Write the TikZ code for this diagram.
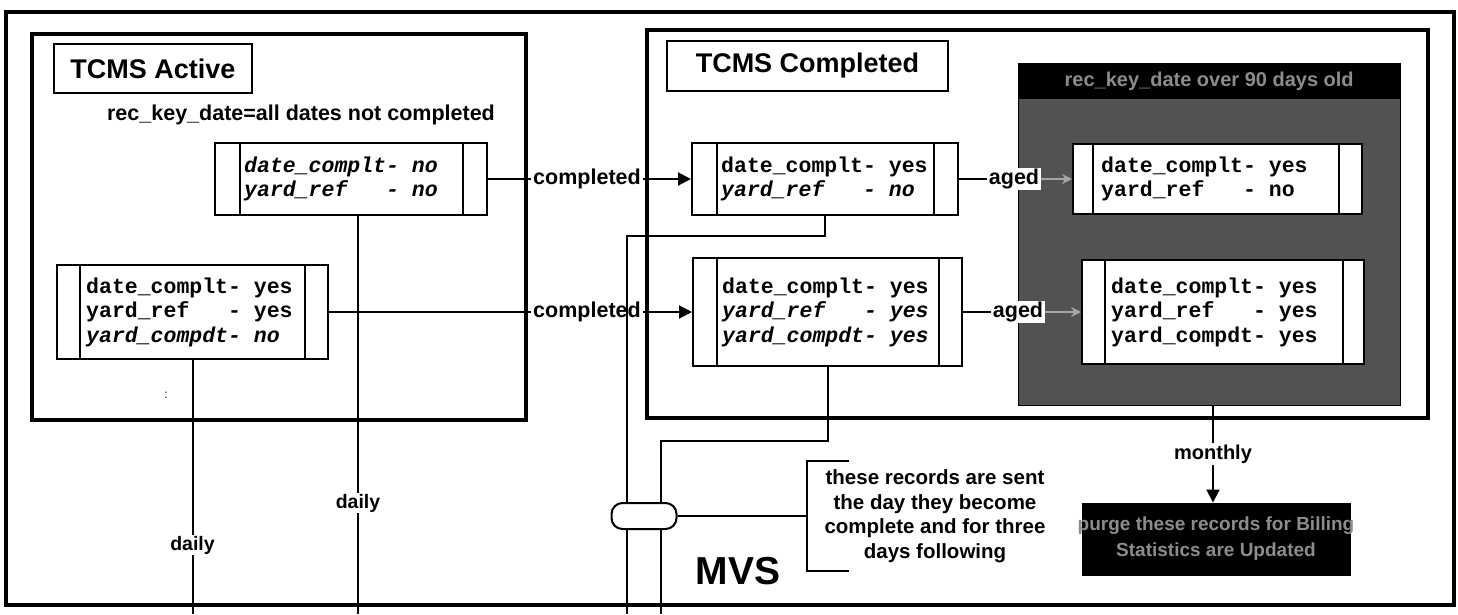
\documentclass[tikz,border=0pt]{standalone}
\usepackage{fontspec}
\setmainfont{Liberation Sans}
\newfontfamily\recfont{Liberation Mono}
\usetikzlibrary{arrows.meta,calc}
\newcommand\dividers[3]{%
  \draw[recline] ([xshift=#2]#1.north west) -- ([xshift=#2]#1.south west);
  \draw[recline] ([xshift=-#3]#1.north east) -- ([xshift=-#3]#1.south east);}
\begin{document}
\begin{tikzpicture}[x=1pt,y=-1pt,
  outerframe/.style={draw, line width=4pt, inner sep=0pt},
  frame/.style={draw, line width=3.5pt, inner sep=0pt},
  titlebox/.style={draw, line width=2pt, inner sep=0pt, font=\bfseries\fontsize{27}{30}\selectfont},
  recbox/.style={draw, line width=2pt, fill=white, inner sep=0pt},
  recline/.style={line width=2pt},
  rectext/.style={inner sep=0pt, align=left, anchor=west, font=\recfont\bfseries\fontsize{21.5}{24.5}\selectfont},
  conn/.style={line width=2pt},
  arr/.style={conn, -{Triangle[length=13pt,width=13pt]}},
  lbl/.style={fill=white, inner xsep=2pt, inner ysep=1pt, font=\bfseries\fontsize{21.5}{24}\selectfont},
  darktext/.style={text=black!45, font=\bfseries\fontsize{20}{25}\selectfont, align=center}
]
\useasboundingbox (0,0) rectangle (1458,614);

% frames
\node[outerframe, minimum width=1448, minimum height=593, anchor=north west] (outer) at (4,10) {};
\node[frame, minimum width=494, minimum height=386, anchor=north west] (active) at (30,32) {};
\node[frame, minimum width=781, minimum height=388, anchor=north west] (compl) at (645,28) {};

% titles
\node[titlebox, minimum width=198, minimum height=49, anchor=north west] (tact) at (53,43) {TCMS Active};
\node[titlebox, minimum width=281, minimum height=50, anchor=north west] (tcom) at (666,40) {TCMS Completed};
\node[font=\bfseries\fontsize{21.5}{24}\selectfont] (rk) at (301,115) {rec\_key\_date=all dates not completed};
\node[font=\fontsize{12}{12}\selectfont] (dot) at (166,395) {:};

% dark aged area
\node[draw, line width=1pt, fill=black!68, minimum width=382, minimum height=342, anchor=north west, inner sep=0pt] (dark) at (1018,63) {};
\node[fill=black, minimum width=382, minimum height=36, anchor=north west, inner sep=0pt] (darkt) at (1018,63) {};
\node[darktext] (darkl) at (darkt.center) {rec\_key\_date over 90 days old};

% record boxes
\node[recbox, minimum width=272, minimum height=72] (A) at (351,179) {};
\dividers{A}{26pt}{25pt}
\node[rectext] (At) at ([xshift=30pt]A.west) {\textit{date\_complt- no}\\\textit{yard\_ref\ \ \ - no}};

\node[recbox, minimum width=271, minimum height=94] (B) at (192.5,312) {};
\dividers{B}{24pt}{24pt}
\node[rectext] (Bt) at ([xshift=30pt]B.west) {date\_complt- yes\\yard\_ref\ \ \ - yes\\\textit{yard\_compdt- no}};

\node[recbox, minimum width=266, minimum height=72] (C) at (825,179) {};
\dividers{C}{26pt}{25pt}
\node[rectext] (Ct) at ([xshift=30pt]C.west) {date\_complt- yes\\\textit{yard\_ref\ \ \ - no}};

\node[recbox, minimum width=269, minimum height=108] (F) at (827.5,312) {};
\dividers{F}{25pt}{24pt}
\node[rectext] (Ft) at ([xshift=30pt]F.west) {date\_complt- yes\\\textit{yard\_ref\ \ \ - yes}\\\textit{yard\_compdt- yes}};

\node[recbox, minimum width=289, minimum height=70] (D) at (1217.5,179) {};
\dividers{D}{21pt}{24pt}
\node[rectext] (Dt) at ([xshift=29pt]D.west) {date\_complt- yes\\yard\_ref\ \ \ - no};

\node[recbox, minimum width=282, minimum height=104] (E) at (1223,312) {};
\dividers{E}{24pt}{22pt}
\node[rectext] (Et) at ([xshift=30pt]E.west) {date\_complt- yes\\yard\_ref\ \ \ - yes\\yard\_compdt- yes};

% purge box
\node[fill=black, draw, line width=1pt, minimum width=268, minimum height=72, inner sep=0pt] (purge) at (1216,539) {};
\node[darktext, font=\bfseries\fontsize{19}{26}\selectfont] (purget) at (purge.center) {purge these records for Billing\\Statistics are Updated};

% completed connectors
\draw[arr] (A.east) -- (C.west);
\draw[arr] (B.east) -- (F.west);
\node[lbl] (c1) at (587,179) {completed};
\node[lbl] (c2) at (587,312) {completed};

% aged connectors
\node[lbl] (a1) at (1014,179) {aged};
\node[lbl] (a2) at (1018,312) {aged};
\draw[conn] (C.east) -- (a1.west);
\draw[conn] (F.east) -- (a2.west);
\draw[line width=1.5pt, black!35, -{Stealth[length=10pt,width=10pt]}] (a1.east) -- (D.west);
\draw[line width=1.5pt, black!35, -{Stealth[length=10pt,width=10pt]}] (a2.east) -- (E.west);

% daily lines
\coordinate (d1b) at (192.5,614);
\coordinate (d2b) at (358,614);
\draw[conn] (B.south) -- (d1b);
\draw[conn] ([xshift=7pt]A.south) -- (d2b);
\node[lbl, font=\bfseries\fontsize{19.5}{22}\selectfont] (daily1) at (192.5,545) {daily};
\node[lbl, font=\bfseries\fontsize{19.5}{22}\selectfont] (daily2) at (358,503) {daily};

% MVS lines
\coordinate (m1b) at (627,614);
\coordinate (m2b) at (661,614);
\draw[conn] (C.south) -- ++(0,20) -| (m1b);
\draw[conn] (F.south) -- ++(0,74) -| (m2b);
\node[draw, conn, fill=white, rounded corners=11pt, minimum width=65, minimum height=26, inner sep=0pt] (pill) at (644,516) {};

% bracket + note
\coordinate (brk) at (807,516);
\coordinate (bt) at (849,461);
\coordinate (bb) at (849,571);
\draw[conn] (pill.east) -- (brk);
\draw[conn] (bt) -- (bt -| brk) -- (bb -| brk) -- (bb);
\node[align=center, font=\bfseries\fontsize{20.5}{24.5}\selectfont] (note) at (935,516) {these records are sent\\the day they become\\complete and for three\\days following};
\node[anchor=base west, font=\bfseries\fontsize{39}{40}\selectfont] (mvs) at (692,584) {MVS};

% monthly
\node[lbl, font=\bfseries\fontsize{20}{22}\selectfont] (mo) at (1213,454) {monthly};
\draw[conn] (dark.south -| mo) -- (mo.north);
\draw[arr] (mo.south) -- (purge.north -| mo);
\end{tikzpicture}
\end{document}
